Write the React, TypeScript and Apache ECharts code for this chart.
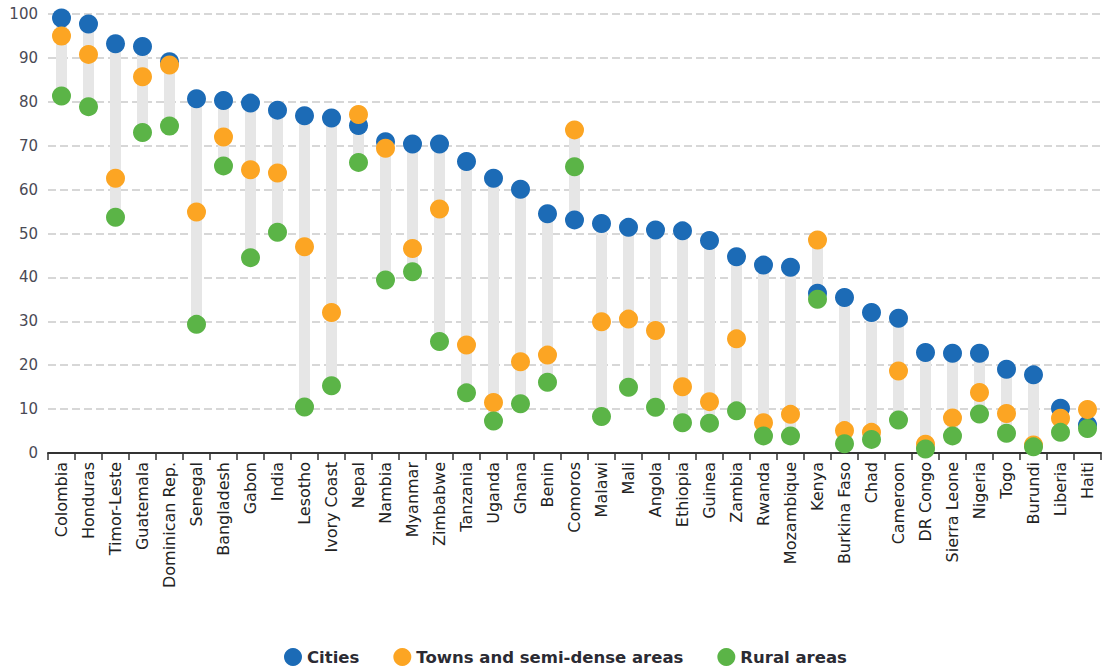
import React, { useEffect, useRef } from "react";
import * as echarts from "echarts";

const countries = [
  "Colombia", "Honduras", "Timor-Leste", "Guatemala", "Dominican Rep.", "Senegal", "Bangladesh", "Gabon",
  "India", "Lesotho", "Ivory Coast", "Nepal", "Nambia", "Myanmar", "Zimbabwe", "Tanzania", "Uganda",
  "Ghana", "Benin", "Comoros", "Malawi", "Mali", "Angola", "Ethiopia", "Guinea", "Zambia", "Rwanda",
  "Mozambique", "Kenya", "Burkina Faso", "Chad", "Cameroon", "DR Congo", "Sierra Leone", "Nigeria",
  "Togo", "Burundi", "Liberia", "Haiti",
];

const cities = [
  99.1, 97.7, 93.2, 92.6, 89.1, 80.7, 80.3, 79.7, 78.1, 76.8, 76.3, 74.6, 70.9, 70.4, 70.4, 66.4, 62.6,
  60.1, 54.5, 53.1, 52.3, 51.4, 50.8, 50.6, 48.4, 44.7, 42.8, 42.3, 36.4, 35.4, 32.0, 30.7, 22.9, 22.7,
  22.7, 19.1, 17.8, 10.2, 6.4,
];

const towns = [
  95.0, 90.8, 62.6, 85.7, 88.4, 54.9, 72.0, 64.5, 63.8, 47.0, 32.0, 77.1, 69.4, 46.6, 55.6, 24.6, 11.5,
  20.8, 22.3, 73.6, 29.9, 30.5, 27.9, 15.1, 11.7, 26.0, 6.9, 8.8, 48.5, 5.1, 4.7, 18.7, 2.0, 8.0,
  13.8, 9.0, 1.8, 7.9, 9.9,
];

const rural = [
  81.3, 78.9, 53.7, 73.0, 74.5, 29.3, 65.4, 44.5, 50.3, 10.5, 15.3, 66.2, 39.4, 41.3, 25.4, 13.7, 7.3,
  11.2, 16.1, 65.2, 8.3, 15.0, 10.4, 6.9, 6.8, 9.6, 3.9, 3.9, 35.0, 2.1, 3.1, 7.5, 0.9, 3.9,
  8.9, 4.5, 1.4, 4.7, 5.6,
];

const yTicks = [0, 10, 20, 30, 40, 50, 60, 70, 80, 90, 100];

const seriesNames = ["Cities", "Towns and semi-dense areas", "Rural areas"];
const colors = ["#1c6bb6", "#fca523", "#5bb447"];

export default function App() {
  const ref = useRef<HTMLDivElement>(null);

  useEffect(() => {
    if (!ref.current) return;
    const chart = echarts.init(ref.current, undefined, { renderer: "svg" });
    const lows = countries.map((_, i) => Math.min(cities[i], towns[i], rural[i]));
    const highs = countries.map((_, i) => Math.max(cities[i], towns[i], rural[i]));
    const spans = highs.map((h, i) => +(h - lows[i]).toFixed(2));

    const font = "'DejaVu Sans', sans-serif";

    chart.setOption({
      animation: false,
      textStyle: { fontFamily: font },
      grid: { left: 48, right: 1, top: 14, bottom: 216, containLabel: false },
      legend: {
        data: seriesNames.map((n) => ({ name: n, icon: "circle" })),
        top: 648,
        left: 284,
        padding: 0,
        itemWidth: 18,
        itemHeight: 18,
        itemGap: 34,
        textStyle: { fontSize: 16.5, fontWeight: "bold", color: "#2b2b33", fontFamily: font },
      },
      xAxis: {
        type: "category",
        data: countries,
        boundaryGap: true,
        axisLine: { lineStyle: { color: "#333", width: 2 } },
        axisTick: { show: true, alignWithLabel: false, length: 7, lineStyle: { color: "#333", width: 1.5 } },
        axisLabel: { rotate: 90, interval: 0, fontSize: 16, color: "#222", margin: 9, fontFamily: font },
        splitLine: { show: false },
      },
      yAxis: {
        type: "value",
        min: yTicks[0],
        max: yTicks[yTicks.length - 1],
        interval: 10,
        axisLine: { show: false },
        axisTick: { show: false },
        axisLabel: { fontSize: 15, color: "#4a4a55", margin: 10, fontFamily: font },
        splitLine: { lineStyle: { color: "#cacaca", width: 1.5, type: [8, 4] } },
      },
      series: [
        {
          name: "base",
          type: "bar",
          stack: "range",
          data: lows,
          barWidth: 11,
          itemStyle: { color: "rgba(0,0,0,0)" },
          silent: true,
        },
        {
          name: "span",
          type: "bar",
          stack: "range",
          data: spans,
          barWidth: 11,
          itemStyle: { color: "#e6e6e6" },
          silent: true,
        },
        {
          name: seriesNames[0],
          type: "scatter",
          data: cities,
          symbolSize: 19,
          itemStyle: { color: colors[0], opacity: 1 },
          z: 3,
        },
        {
          name: seriesNames[1],
          type: "scatter",
          data: towns,
          symbolSize: 19,
          itemStyle: { color: colors[1], opacity: 1 },
          z: 4,
        },
        {
          name: seriesNames[2],
          type: "scatter",
          data: rural,
          symbolSize: 19,
          itemStyle: { color: colors[2], opacity: 1 },
          z: 5,
        },
      ],
    });
    return () => chart.dispose();
  }, []);

  return (
    <div
      ref={ref}
      style={{ position: "fixed", left: 0, top: 0, width: 1102, height: 669, background: "#fff" }}
    />
  );
}
